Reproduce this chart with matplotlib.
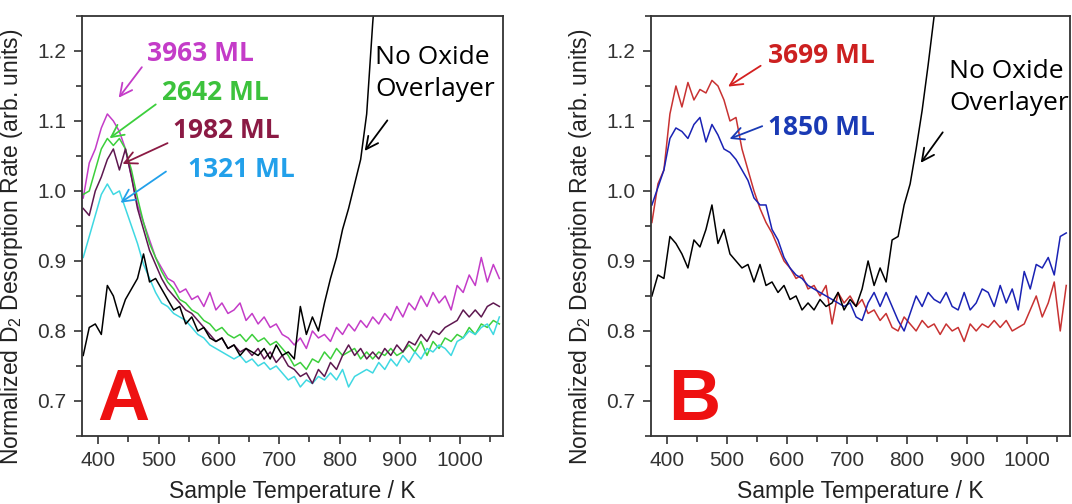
import numpy as np
import matplotlib
matplotlib.use("Agg")
import matplotlib.pyplot as plt
from matplotlib.ticker import MultipleLocator

plt.rcParams['font.family'] = ['Liberation Sans', 'DejaVu Sans']
plt.rcParams['mathtext.fontset'] = 'custom'
plt.rcParams['mathtext.rm'] = 'Liberation Sans'

# temperature grid (K), 10 K steps
temps = np.arange(375, 1070, 10)

# panel A
mag_3963 = [0.99, 1.04, 1.06, 1.09, 1.11, 1.10, 1.085, 1.06, 1.02, 0.98,
            0.955, 0.93, 0.905, 0.89, 0.875, 0.87, 0.855, 0.86, 0.845, 0.85,
            0.835, 0.855, 0.83, 0.84, 0.825, 0.83, 0.84, 0.815, 0.825, 0.81,
            0.82, 0.805, 0.81, 0.795, 0.79, 0.78, 0.79, 0.775, 0.80, 0.79,
            0.795, 0.785, 0.805, 0.795, 0.81, 0.80, 0.815, 0.805, 0.82, 0.81,
            0.825, 0.815, 0.835, 0.82, 0.84, 0.83, 0.85, 0.835, 0.855, 0.84,
            0.85, 0.83, 0.865, 0.855, 0.88, 0.865, 0.905, 0.87, 0.895, 0.875]
grn_2642 = [0.995, 1.0, 1.03, 1.06, 1.075, 1.065, 1.075, 1.06, 1.03, 0.99,
            0.955, 0.925, 0.905, 0.885, 0.87, 0.86, 0.845, 0.84, 0.83, 0.825,
            0.815, 0.81, 0.80, 0.805, 0.795, 0.79, 0.795, 0.785, 0.795, 0.785,
            0.79, 0.78, 0.785, 0.775, 0.765, 0.75, 0.755, 0.745, 0.76, 0.755,
            0.77, 0.76, 0.775, 0.765, 0.77, 0.775, 0.76, 0.77, 0.76, 0.77,
            0.765, 0.775, 0.765, 0.77, 0.78, 0.77, 0.785, 0.765, 0.785, 0.775,
            0.79, 0.785, 0.795, 0.79, 0.805, 0.795, 0.81, 0.805, 0.815, 0.81]
pur_1982 = [0.975, 0.965, 1.0, 1.02, 1.045, 1.06, 1.03, 1.06, 1.02, 0.975,
            0.945, 0.915, 0.895, 0.875, 0.86, 0.85, 0.84, 0.83, 0.825, 0.815,
            0.805, 0.795, 0.785, 0.79, 0.775, 0.78, 0.77, 0.775, 0.765, 0.775,
            0.76, 0.77, 0.755, 0.765, 0.75, 0.745, 0.735, 0.74, 0.725, 0.745,
            0.735, 0.755, 0.745, 0.765, 0.78, 0.765, 0.775, 0.76, 0.77, 0.76,
            0.775, 0.765, 0.78, 0.77, 0.785, 0.78, 0.795, 0.785, 0.80, 0.795,
            0.805, 0.81, 0.815, 0.83, 0.82, 0.83, 0.82, 0.835, 0.84, 0.835]
cyn_1321 = [0.905, 0.935, 0.965, 0.995, 1.01, 0.995, 1.0, 0.975, 0.95, 0.925,
            0.895, 0.875, 0.855, 0.84, 0.835, 0.825, 0.82, 0.815, 0.805, 0.795,
            0.79, 0.78, 0.775, 0.77, 0.765, 0.76, 0.765, 0.755, 0.76, 0.75,
            0.755, 0.745, 0.75, 0.74, 0.73, 0.735, 0.72, 0.73, 0.725, 0.735,
            0.73, 0.74, 0.73, 0.745, 0.72, 0.735, 0.74, 0.745, 0.74, 0.755,
            0.745, 0.76, 0.75, 0.765, 0.755, 0.77, 0.76, 0.775, 0.77, 0.78,
            0.775, 0.765, 0.785, 0.79, 0.80, 0.795, 0.805, 0.81, 0.795, 0.82]
blk_A = [0.765, 0.805, 0.81, 0.795, 0.865, 0.85, 0.82, 0.845, 0.86, 0.875,
         0.91, 0.87, 0.875, 0.86, 0.845, 0.83, 0.835, 0.81, 0.82, 0.80,
         0.805, 0.79, 0.785, 0.79, 0.775, 0.78, 0.765, 0.775, 0.77, 0.765,
         0.775, 0.76, 0.78, 0.765, 0.77, 0.76, 0.835, 0.795, 0.82, 0.80,
         0.84, 0.875, 0.905, 0.945, 0.975, 1.01, 1.045, 1.11, 1.24, 1.35]

# panel B
red_3699 = [0.955, 1.01, 1.03, 1.11, 1.15, 1.12, 1.155, 1.13, 1.145, 1.14,
            1.158, 1.15, 1.13, 1.10, 1.105, 1.06, 1.03, 1.0, 0.975, 0.955,
            0.94, 0.92, 0.90, 0.89, 0.875, 0.88, 0.86, 0.865, 0.85, 0.865,
            0.81, 0.855, 0.84, 0.85, 0.835, 0.845, 0.825, 0.83, 0.815, 0.825,
            0.805, 0.80, 0.82, 0.81, 0.80, 0.815, 0.805, 0.81, 0.795, 0.81,
            0.80, 0.805, 0.785, 0.81, 0.80, 0.81, 0.805, 0.815, 0.805, 0.815,
            0.80, 0.805, 0.81, 0.83, 0.85, 0.82, 0.84, 0.87, 0.80, 0.865]
blu_1850 = [0.98, 1.005, 1.03, 1.075, 1.09, 1.085, 1.075, 1.095, 1.105, 1.07,
            1.095, 1.08, 1.06, 1.055, 1.045, 1.03, 1.015, 0.99, 0.98, 0.98,
            0.945, 0.93, 0.905, 0.89, 0.88, 0.875, 0.865, 0.86, 0.855, 0.85,
            0.845, 0.84, 0.835, 0.84, 0.82, 0.815, 0.84, 0.855, 0.835, 0.855,
            0.835, 0.815, 0.80, 0.825, 0.85, 0.835, 0.855, 0.845, 0.84, 0.855,
            0.835, 0.83, 0.855, 0.83, 0.84, 0.86, 0.855, 0.835, 0.865, 0.84,
            0.86, 0.83, 0.885, 0.86, 0.895, 0.89, 0.905, 0.88, 0.935, 0.94]
blk_B = [0.85, 0.88, 0.875, 0.935, 0.925, 0.91, 0.89, 0.93, 0.92, 0.945,
         0.98, 0.925, 0.945, 0.91, 0.90, 0.89, 0.895, 0.87, 0.895, 0.865,
         0.87, 0.855, 0.865, 0.845, 0.85, 0.83, 0.84, 0.83, 0.845, 0.835,
         0.84, 0.855, 0.83, 0.845, 0.835, 0.86, 0.90, 0.865, 0.89, 0.87,
         0.93, 0.935, 0.98, 1.01, 1.06, 1.115, 1.18, 1.25, 1.33]

fig = plt.figure(figsize=(10.72, 5.04), dpi=100)
axA = fig.add_axes([0.0765, 0.135, 0.3927, 0.8333])
axB = fig.add_axes([0.607, 0.135, 0.391, 0.8333])

lw = 1.1
axA.plot(temps, mag_3963, color='#c43cc8', lw=lw)
axA.plot(temps, grn_2642, color='#3ccf3c', lw=lw)
axA.plot(temps, cyn_1321, color='#3fd8e2', lw=lw)
axA.plot(temps, pur_1982, color='#5e1850', lw=lw)
axA.plot(temps[:len(blk_A)], blk_A, color='black', lw=lw)

axB.plot(temps, red_3699, color='#c83232', lw=lw)
axB.plot(temps, blu_1850, color='#1a22b4', lw=lw)
axB.plot(temps[:len(blk_B)], blk_B, color='black', lw=lw)

for ax in (axA, axB):
    ax.set_xlim(373, 1071)
    ax.set_ylim(0.65, 1.25)
    ax.xaxis.set_major_locator(MultipleLocator(100))
    ax.xaxis.set_minor_locator(MultipleLocator(50))
    ax.yaxis.set_major_locator(MultipleLocator(0.1))
    ax.yaxis.set_minor_locator(MultipleLocator(0.05))
    ax.yaxis.set_major_formatter(plt.FormatStrFormatter('%.1f'))
    ax.tick_params(which='major', direction='out', length=6, width=1.2,
                   labelsize=15, pad=5, labelcolor='#333333', color='#333333')
    ax.tick_params(which='minor', direction='out', length=4, width=1.2, color='#333333')
    for s in ax.spines.values():
        s.set_linewidth(1.3)
        s.set_color('#333333')
    ax.set_xlabel('Sample Temperature / K', fontsize=16.5, color='#222222')
    ax.set_ylabel('Normalized D$_\\mathregular{2}$ Desorption Rate (arb. units)',
                  fontsize=16.5, color='#222222')
    ax.yaxis.set_label_coords(-0.135, 0.45)
    ax.xaxis.set_label_coords(0.5, -0.105)

lab = dict(fontsize=19, fontweight='bold', family=['Open Sans', 'DejaVu Sans'],
           va='center', ha='left')
arr = lambda c: dict(arrowstyle='->', color=c, lw=1.3, mutation_scale=22)

# panel A annotations
axA.annotate('', xy=(431, 1.13), xytext=(475, 1.18), arrowprops=arr('#c43cc8'))
axA.text(481, 1.197, '3963 ML', color='#c43cc8', **lab)
axA.annotate('', xy=(415, 1.073), xytext=(499, 1.126), arrowprops=arr('#3ccf3c'))
axA.text(506, 1.14, '2642 ML', color='#3cc23c', **lab)
axA.annotate('', xy=(436, 1.037), xytext=(519, 1.07), arrowprops=arr('#8b1a44'))
axA.text(524, 1.086, '1982 ML', color='#8b1a44', **lab)
axA.annotate('', xy=(433, 0.981), xytext=(516, 1.03), arrowprops=arr('#22a0ea'))
axA.text(548, 1.03, '1321 ML', color='#22a0ea', **lab)
axA.annotate('', xy=(839, 1.054), xytext=(882, 1.104), arrowprops=arr('black'))
axA.text(859, 1.168, 'No Oxide\nOverlayer', color='black', fontsize=19,
         family=['Open Sans', 'DejaVu Sans'], va='center', ha='left', linespacing=1.4)
axA.text(398, 0.673, 'A', color='#ee1111', fontsize=52, fontweight='bold',
         va='baseline', ha='left')

# panel B annotations
axB.annotate('', xy=(498, 1.147), xytext=(560, 1.181), arrowprops=arr('#d42020'))
axB.text(568, 1.194, '3699 ML', color='#cc2020', **lab)
axB.annotate('', xy=(500, 1.073), xytext=(563, 1.094), arrowprops=arr('#1a3ab4'))
axB.text(568, 1.09, '1850 ML', color='#1a3ab4', **lab)
axB.annotate('', xy=(820, 1.037), xytext=(862, 1.087), arrowprops=arr('black'))
axB.text(870, 1.148, 'No Oxide\nOverlayer', color='black', fontsize=19,
         family=['Open Sans', 'DejaVu Sans'], va='center', ha='left', linespacing=1.4)
axB.text(402, 0.673, 'B', color='#ee1111', fontsize=52, fontweight='bold',
         va='baseline', ha='left')

fig.savefig('out.png', dpi=100)
